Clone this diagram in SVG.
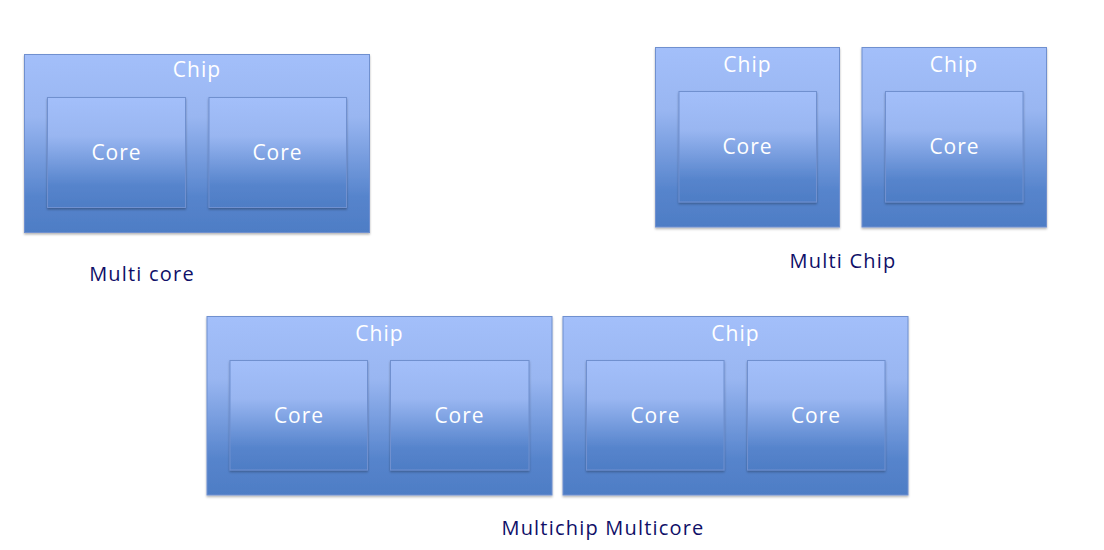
<svg xmlns="http://www.w3.org/2000/svg" width="1104" height="550" viewBox="0 0 1104 550">
<defs>
<linearGradient id="g" x1="0" y1="0" x2="0" y2="1">
<stop offset="0" stop-color="#a3bffa"/>
<stop offset="0.35" stop-color="#99b6f1"/>
<stop offset="0.8" stop-color="#5684cc"/>
<stop offset="1" stop-color="#4e7dc5"/>
</linearGradient>
<filter id="sh" x="-5%" y="-5%" width="110%" height="115%">
<feDropShadow dx="0" dy="1.5" stdDeviation="1" flood-color="#000" flood-opacity="0.3"/>
</filter>
</defs>
<style>
.box{fill:url(#g);stroke:#6f90cf;stroke-width:1;filter:url(#sh)}
.in{font-family:"Open Sans","Liberation Sans",sans-serif;font-size:21px;fill:#ffffff;text-anchor:middle;letter-spacing:1px}
.lbl{font-family:"Open Sans","Liberation Sans",sans-serif;font-size:20px;fill:#0f0f68;text-anchor:middle;letter-spacing:1.2px}
</style>
<rect width="1104" height="550" fill="#ffffff"/>

<g id="multicore">
<g id="chip1"><rect class="box" x="24.5" y="54.5" width="345" height="178"/><text class="in" x="197" y="77">Chip</text></g>
<g id="core1a"><rect class="box" x="47.5" y="97.5" width="138" height="110"/><text class="in" x="116.5" y="160">Core</text></g>
<g id="core1b"><rect class="box" x="209" y="97.5" width="137.5" height="110"/><text class="in" x="277.5" y="160">Core</text></g>
<text id="lbl-multicore" class="lbl" x="142" y="281">Multi core</text>
</g>

<g id="multichip">
<g id="chip2a"><rect class="box" x="655.5" y="47.5" width="184" height="179.5"/><text class="in" x="747.5" y="72">Chip</text></g>
<g id="core2a"><rect class="box" x="679" y="91.5" width="137.5" height="110.5"/><text class="in" x="747.5" y="154">Core</text></g>
<g id="chip2b"><rect class="box" x="862" y="47.5" width="184.5" height="179.5"/><text class="in" x="954" y="72">Chip</text></g>
<g id="core2b"><rect class="box" x="885.5" y="91.5" width="137.5" height="110.5"/><text class="in" x="954.5" y="154">Core</text></g>
<text id="lbl-multichip" class="lbl" x="843" y="267.5">Multi Chip</text>
</g>

<g id="multichip-multicore">
<g id="chip3a"><rect class="box" x="207" y="316.5" width="345" height="178.5"/><text class="in" x="379.5" y="341">Chip</text></g>
<g id="core3a"><rect class="box" x="230" y="360.5" width="137.5" height="109.5"/><text class="in" x="299" y="423">Core</text></g>
<g id="core3b"><rect class="box" x="390.5" y="360.5" width="138.5" height="109.5"/><text class="in" x="459.5" y="423">Core</text></g>
<g id="chip3b"><rect class="box" x="563" y="316.5" width="345" height="178.5"/><text class="in" x="735.5" y="341">Chip</text></g>
<g id="core3c"><rect class="box" x="586.5" y="360.5" width="137.5" height="109.5"/><text class="in" x="655.5" y="423">Core</text></g>
<g id="core3d"><rect class="box" x="747.5" y="360.5" width="137.5" height="109.5"/><text class="in" x="816" y="423">Core</text></g>
<text id="lbl-mcmc" class="lbl" x="603" y="535">Multichip Multicore</text>
</g>
<g id="connectors"/>
</svg>
